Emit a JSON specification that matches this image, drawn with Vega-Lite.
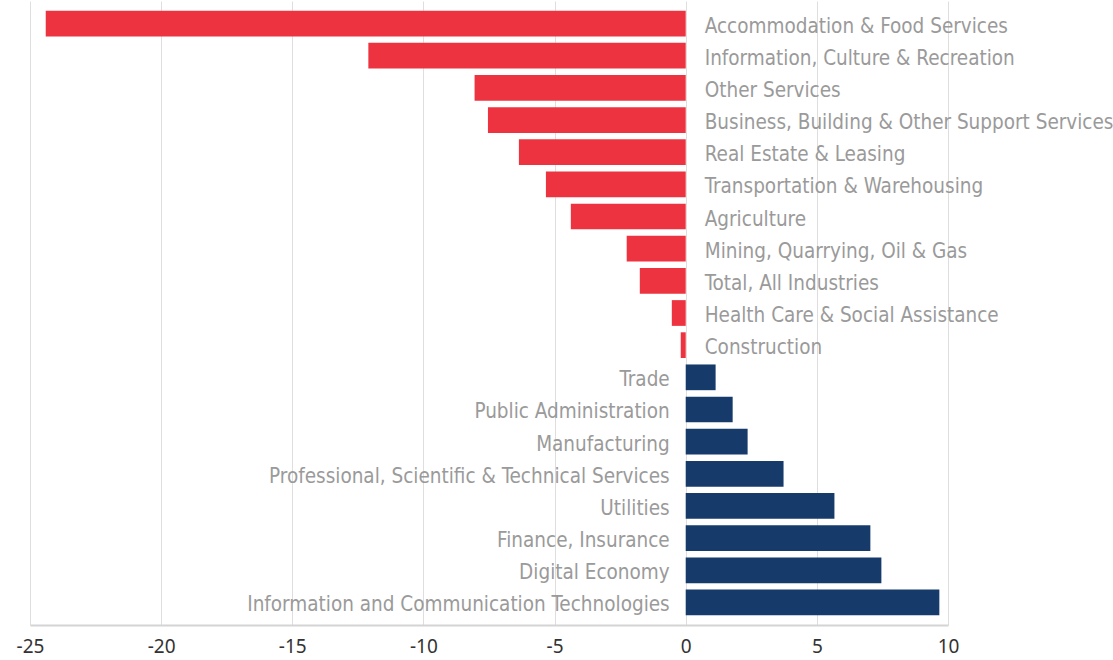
{
  "$schema": "https://vega.github.io/schema/vega-lite/v6.json",
  "autosize": "none",
  "width": 918,
  "height": 624,
  "padding": {"left": 30, "top": 1, "right": 165, "bottom": 35},
  "background": "white",
  "config": {"view": {"stroke": null}},
  "data": {
    "values": [
      {"industry": "Accommodation & Food Services", "change": -24.4},
      {"industry": "Information, Culture & Recreation", "change": -12.1},
      {"industry": "Other Services", "change": -8.05},
      {"industry": "Business, Building & Other Support Services", "change": -7.54},
      {"industry": "Real Estate & Leasing", "change": -6.36},
      {"industry": "Transportation & Warehousing", "change": -5.33},
      {"industry": "Agriculture", "change": -4.38},
      {"industry": "Mining, Quarrying, Oil & Gas", "change": -2.25},
      {"industry": "Total, All Industries", "change": -1.75},
      {"industry": "Health Care & Social Assistance", "change": -0.53},
      {"industry": "Construction", "change": -0.19},
      {"industry": "Trade", "change": 1.14},
      {"industry": "Public Administration", "change": 1.79},
      {"industry": "Manufacturing", "change": 2.36},
      {"industry": "Professional, Scientific & Technical Services", "change": 3.73},
      {"industry": "Utilities", "change": 5.67},
      {"industry": "Finance, Insurance", "change": 7.04},
      {"industry": "Digital Economy", "change": 7.46},
      {"industry": "Information and Communication Technologies", "change": 9.67}
    ]
  },
  "encoding": {
    "y": {
      "field": "industry",
      "type": "nominal",
      "sort": null,
      "scale": {"paddingInner": 0.2, "paddingOuter": 0.3},
      "axis": null
    }
  },
  "layer": [
    {
      "mark": {"type": "bar"},
      "encoding": {
        "x": {
          "field": "change",
          "type": "quantitative",
          "scale": {"domain": [-25, 10], "nice": false, "zero": false},
          "axis": {
            "title": null,
            "values": [-25, -20, -15, -10, -5, 0, 5, 10],
            "labelExpr": "'' + datum.value",
            "grid": true,
            "gridColor": "#dedede",
            "gridWidth": 1,
            "domain": true,
            "domainColor": "#d4d4d4",
            "domainWidth": 2,
            "ticks": false,
            "labelPadding": 12,
            "labelFont": "Noto Sans",
            "labelFontSize": 19,
            "labelColor": "#333333",
            "labelFlush": false
          }
        },
        "color": {
          "condition": {"test": "datum.change < 0", "value": "#ee3340"},
          "value": "#163b6b"
        }
      }
    },
    {
      "transform": [{"filter": "datum.change < 0"}],
      "mark": {"type": "text", "align": "left", "baseline": "middle", "dx": 19, "dy": 3, "font": "DejaVu Sans Condensed", "fontSize": 20.5, "color": "#9a9a9a"},
      "encoding": {
        "x": {"datum": 0, "type": "quantitative"},
        "text": {"field": "industry"}
      }
    },
    {
      "transform": [{"filter": "datum.change > 0"}],
      "mark": {"type": "text", "align": "right", "baseline": "middle", "dx": -16, "dy": 3, "font": "DejaVu Sans Condensed", "fontSize": 20.5, "color": "#9a9a9a"},
      "encoding": {
        "x": {"datum": 0, "type": "quantitative"},
        "text": {"field": "industry"}
      }
    }
  ]
}
